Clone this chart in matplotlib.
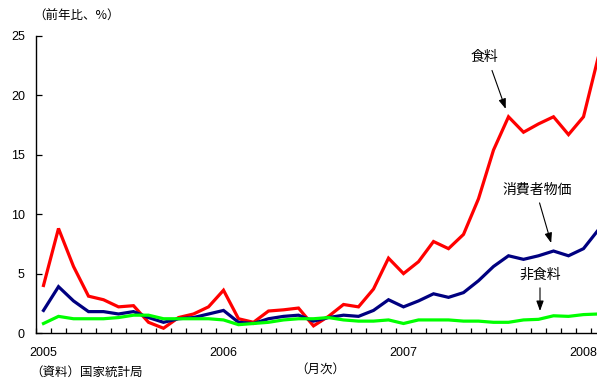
import matplotlib
matplotlib.use("Agg")
import matplotlib.pyplot as plt
from matplotlib.ticker import FixedLocator, NullFormatter

# Monthly year-on-year rates, Jan 2005 - Feb 2008
months = [f"{y}-{m:02d}" for y in range(2005, 2009) for m in range(1, 13)][:38]
food = [4.0, 8.8, 5.6, 3.1, 2.8, 2.2, 2.3, 0.9, 0.4, 1.3, 1.6, 2.2,
        3.6, 1.2, 0.9, 1.85, 1.95, 2.1, 0.6, 1.4, 2.4, 2.2, 3.7, 6.3,
        5.0, 6.0, 7.7, 7.1, 8.3, 11.3, 15.4, 18.2, 16.9, 17.6, 18.2, 16.7,
        18.2, 23.3]
cpi = [1.9, 3.9, 2.7, 1.8, 1.8, 1.6, 1.8, 1.3, 0.9, 1.2, 1.3, 1.6,
       1.9, 0.9, 0.8, 1.2, 1.4, 1.5, 1.0, 1.3, 1.5, 1.4, 1.9, 2.8,
       2.2, 2.7, 3.3, 3.0, 3.4, 4.4, 5.6, 6.5, 6.2, 6.5, 6.9, 6.5,
       7.1, 8.7]
nonfood = [0.8, 1.4, 1.2, 1.2, 1.2, 1.3, 1.5, 1.5, 1.2, 1.2, 1.2, 1.2,
           1.1, 0.7, 0.8, 0.9, 1.1, 1.2, 1.2, 1.3, 1.1, 1.0, 1.0, 1.1,
           0.8, 1.1, 1.1, 1.1, 1.0, 1.0, 0.9, 0.9, 1.1, 1.15, 1.45, 1.4,
           1.55, 1.6]
year_ticks = [0, 12, 24, 36]
year_labels = ["2005", "2006", "2007", "2008"]
y_ticks = [0, 5, 10, 15, 20, 25]

JP = ["Noto Sans CJK JP", "DejaVu Sans"]
NUM = ["Liberation Sans", "DejaVu Sans"]

W, H = 597, 381
fig = plt.figure(figsize=(W / 100, H / 100), dpi=100)
# axes run slightly past the right edge of the figure
ax = fig.add_axes([36 / W, (H - 333) / H, 570 / W, 297 / H])

x = list(range(len(months)))
ax.plot(x, food, color="#ff0000", lw=2.3, solid_joinstyle="miter", zorder=3)
ax.plot(x, cpi, color="#000080", lw=2.3, solid_joinstyle="miter", zorder=3)
ax.plot(x, nonfood, color="#00ff00", lw=2.3, solid_joinstyle="miter", zorder=3)

ax.set_xlim(-0.5, len(months) - 0.5)
ax.set_ylim(0, 25)

for s in ("top", "right"):
    ax.spines[s].set_visible(False)
for s in ("left", "bottom"):
    ax.spines[s].set_color("black")
    ax.spines[s].set_linewidth(1.0)

ax.set_yticks(y_ticks)
ax.set_yticklabels([str(v) for v in y_ticks], fontfamily=NUM, fontsize=9)
ax.tick_params(axis="y", direction="in", length=4.5, width=0.9, pad=8)

ax.xaxis.set_major_locator(FixedLocator(year_ticks))
ax.set_xticklabels(year_labels, fontfamily=NUM, fontsize=9)
ax.xaxis.set_minor_locator(FixedLocator([i - 0.5 for i in range(len(months) + 1)]))
ax.xaxis.set_minor_formatter(NullFormatter())
ax.tick_params(axis="x", which="major", length=0, pad=10)
ax.tick_params(axis="x", which="minor", direction="in", length=3.5, width=0.9)

# series labels with arrows
arrow = dict(arrowstyle="-|>,head_length=0.6,head_width=0.22", color="black",
             lw=0.8, shrinkA=0, shrinkB=6)
ax.text(29.4, 23.2, "食料", fontfamily=JP, fontsize=10, ha="center", va="center")
ax.annotate("", xy=(31, food[31]), xytext=(29.9, 22.1), arrowprops=arrow)
ax.text(32.9, 12.05, "消費者物価", fontfamily=JP, fontsize=10, ha="center", va="center")
ax.annotate("", xy=(34, cpi[34]), xytext=(33.07, 10.95), arrowprops=arrow)
ax.text(33.1, 4.9, "非食料", fontfamily=JP, fontsize=10, ha="center", va="center")
ax.annotate("", xy=(33.1, nonfood[33]), xytext=(33.1, 3.8), arrowprops=arrow)

fig.text(33 / W, 1 - 16 / H, "（前年比、%）", fontfamily=JP, fontsize=9,
         ha="left", va="center")
fig.text(320 / W, 1 - 369 / H, "（月次）", fontfamily=JP, fontsize=9,
         ha="center", va="center")
fig.text(30 / W, 1 - 372 / H, "（資料）国家統計局", fontfamily=JP, fontsize=9,
         ha="left", va="center")

fig.savefig("out.png", dpi=100)
